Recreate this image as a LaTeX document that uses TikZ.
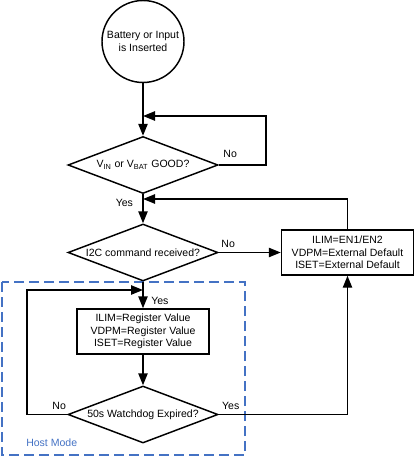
\documentclass[tikz,border=0pt]{standalone}
\usepackage{fontspec}
\setmainfont{Liberation Sans}
\usetikzlibrary{arrows.meta, shapes.geometric, positioning}

\definecolor{hostblue}{RGB}{68,114,196}

\tikzset{
	flow/.style = {line width = 1.1pt, ->},
	decision/.style = {diamond, draw, line width = 1.1pt, aspect = 2.6, inner sep = 0pt, minimum width = 112.5pt, minimum height = 42.75pt},
	setbox/.style = {rectangle, draw, line width = 1.1pt, align = center, minimum width = 99pt, minimum height = 33.75pt, inner sep = 0pt},
	startcircle/.style = {circle, draw, line width = 1.1pt, align = center, minimum size = 61.5pt, inner sep = 0pt},
	lbl/.style = {inner sep = 0pt},
	hostbox/.style = {hostblue, line width = 1.1pt, dash pattern = on 7.5pt off 3.75pt}
}

\begin{document}
\begin{tikzpicture}[> = {Triangle[length = 9pt, width = 7pt]}, x = 0.75pt, y = -0.75pt, font = \fontsize{7.9}{9.4}\selectfont]

	\useasboundingbox (0, 0) rectangle (415, 456);

	% Host mode frame

	\draw [hostbox] (2, 282) rectangle (245, 455);
	\node [lbl, anchor = base west, text = hostblue] (hostlabel) at (26, 446) {Host Mode};

	% Steps

	\node [startcircle] (start) at (143, 41.5) {Battery or Input\\is Inserted};
	\node [decision] (vgood) at (143, 165) {V\textsubscript{IN} or V\textsubscript{BAT} GOOD?};
	\node [decision] (i2c) at (143, 252.5) {I2C command received?};
	\node [setbox] (ext) at (347.5, 252.5) {ILIM=EN1/EN2\\VDPM=External Default\\ISET=External Default};
	\node [setbox] (reg) at (143, 331.5) {ILIM=Register Value\\VDPM=Register Value\\ISET=Register Value};
	\node [decision] (wdog) at (143, 414.5) {50s Watchdog Expired?};

	% Junctions

	\coordinate (j1) at (143, 116);
	\coordinate (noturn) at (266, 116);
	\coordinate (j2) at (143, 199);
	\coordinate (j3) at (143, 290);
	\coordinate (wleft) at (27, 290);

	% Connectors

	\draw [flow] (start) -- (vgood);
	\draw [flow] (vgood.east) node [lbl, above right = 5pt and 3pt] (no1) {No} -| (noturn) -- (j1);
	\draw [flow] (vgood.south) node [lbl, below left = 3pt and 7pt] (yes1) {Yes} -- (i2c.north);
	\draw [flow] (ext.north) |- (j2);
	\draw [flow] (i2c.east) node [lbl, above right = 3pt and 1.5pt] (no2) {No} -- (ext.west);
	\draw [flow] (i2c.south) -- (reg.north);
	\node [lbl, below right = 5pt and 6pt] (yes2) at (j3) {Yes};
	\draw [flow] (reg.south) -- (wdog.north);
	\draw [flow] (wdog.west) node [lbl, above left = 3pt and 0.5pt] (no3) {No} -| (wleft) -- (j3);
	\draw [flow] (wdog.east) node [lbl, above right = 3pt and 2pt] (yes3) {Yes} -| (ext.south);

\end{tikzpicture}
\end{document}
